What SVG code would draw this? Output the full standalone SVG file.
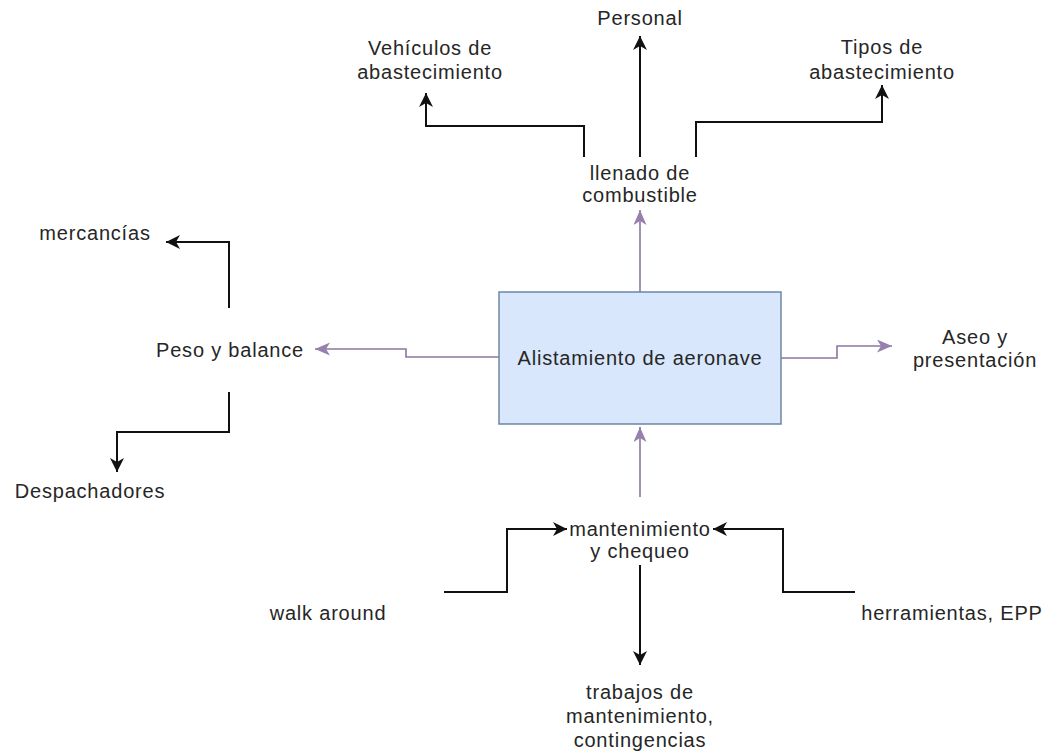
<svg xmlns="http://www.w3.org/2000/svg" width="1049" height="752" viewBox="0 0 1049 752">
  <style>
    .lbl { font-family: "Liberation Sans", Arial, sans-serif; font-size: 20px; fill: #262626; text-anchor: middle; letter-spacing: 0.8px; }
    .blk { fill: none; stroke: #111; stroke-width: 2; }
    .pur { fill: none; stroke: #8c76a0; stroke-width: 1.6; }
  </style>
  <defs>
    <marker id="arrBlack" markerUnits="userSpaceOnUse" markerWidth="16" markerHeight="16" refX="14" refY="7" orient="auto">
      <path d="M0,0 L14,7 L0,14 L4,7 Z" fill="#111"/>
    </marker>
    <marker id="arrPurple" markerUnits="userSpaceOnUse" markerWidth="18" markerHeight="14" refX="15" refY="6.5" orient="auto">
      <path d="M0,0 L15,6.5 L0,13 L4,6.5 Z" fill="#9680ad"/>
    </marker>
  </defs>

  <rect width="1049" height="752" fill="#ffffff"/>

  <!-- connectors -->
  <g id="connectors">
    <path class="blk" d="M640,157 V36" marker-end="url(#arrBlack)"/>
    <path class="blk" d="M584,157 V126 H426 V93" marker-end="url(#arrBlack)"/>
    <path class="blk" d="M696,157 V122 H882 V85" marker-end="url(#arrBlack)"/>
    <path class="blk" d="M229,308 V242 H166" marker-end="url(#arrBlack)"/>
    <path class="blk" d="M229,392 V432 H117 V472" marker-end="url(#arrBlack)"/>
    <path class="blk" d="M444,592 H507 V529 H567" marker-end="url(#arrBlack)"/>
    <path class="blk" d="M855,592 H783 V529 H713" marker-end="url(#arrBlack)"/>
    <path class="blk" d="M640,565 V665" marker-end="url(#arrBlack)"/>

    <path class="pur" d="M640,292 V210" marker-end="url(#arrPurple)"/>
    <path class="pur" d="M499,357 H406 V349 H315" marker-end="url(#arrPurple)"/>
    <path class="pur" d="M781,358 H837 V346 H892" marker-end="url(#arrPurple)"/>
    <path class="pur" d="M640,497 V427" marker-end="url(#arrPurple)"/>
  </g>

  <!-- central process -->
  <g id="alistamiento">
    <rect x="499" y="292" width="282" height="132" fill="#d8e7fb" stroke="#6f86a3" stroke-width="1.5"/>
    <text class="lbl" x="640" y="365">Alistamiento de aeronave</text>
  </g>

  <g id="llenado">
    <text class="lbl" x="640" y="180">llenado de</text>
    <text class="lbl" x="640" y="202">combustible</text>
  </g>

  <g id="personal">
    <text class="lbl" x="640" y="25">Personal</text>
  </g>

  <g id="vehiculos">
    <text class="lbl" x="430" y="55">Vehículos de</text>
    <text class="lbl" x="430" y="79">abastecimiento</text>
  </g>

  <g id="tipos">
    <text class="lbl" x="882" y="54">Tipos de</text>
    <text class="lbl" x="882" y="79">abastecimiento</text>
  </g>

  <g id="peso">
    <text class="lbl" x="230" y="357">Peso y balance</text>
  </g>

  <g id="mercancias">
    <text class="lbl" x="95" y="240">mercancías</text>
  </g>

  <g id="despachadores">
    <text class="lbl" x="90" y="498">Despachadores</text>
  </g>

  <g id="aseo">
    <text class="lbl" x="975" y="344">Aseo y</text>
    <text class="lbl" x="975" y="367">presentación</text>
  </g>

  <g id="mantenimiento">
    <text class="lbl" x="640" y="536">mantenimiento</text>
    <text class="lbl" x="640" y="558">y chequeo</text>
  </g>

  <g id="walk">
    <text class="lbl" x="328" y="620">walk around</text>
  </g>

  <g id="herramientas">
    <text class="lbl" x="952" y="620">herramientas, EPP</text>
  </g>

  <g id="trabajos">
    <text class="lbl" x="640" y="699">trabajos de</text>
    <text class="lbl" x="640" y="723">mantenimiento,</text>
    <text class="lbl" x="640" y="747">contingencias</text>
  </g>
</svg>
